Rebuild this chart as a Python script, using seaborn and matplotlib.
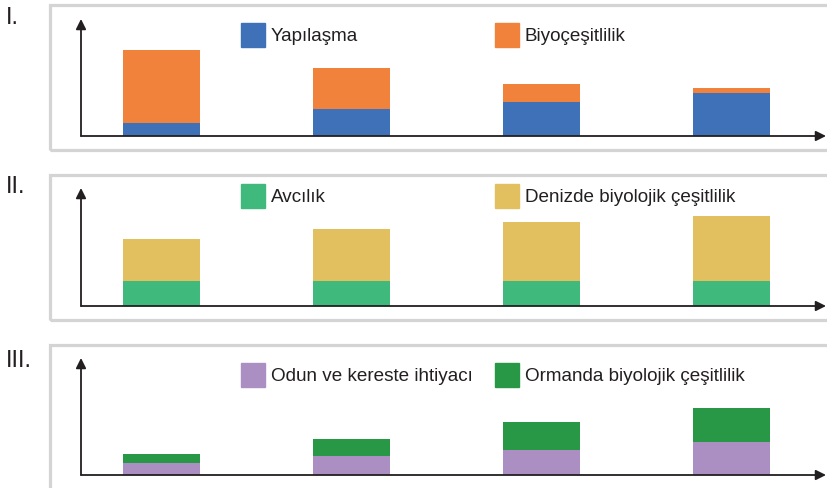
import matplotlib
matplotlib.use("Agg")
import matplotlib.pyplot as plt
from matplotlib.patches import Rectangle
import seaborn as sns
import pandas as pd

sns.set_style("white")
plt.rcParams['font.family'] = ['Liberation Sans', 'DejaVu Sans']

W, H = 828, 489

# values (pixel heights of the stacked parts)
periods = ["t1", "t2", "t3", "t4"]

yapilasma = [13, 27, 34, 43]
biyocesitlilik = [73, 41, 18, 5]

avcilik = [25, 25, 25, 25]
deniz_cesitlilik = [42, 52, 59, 65]

odun_ihtiyaci = [12, 19, 25, 33]
orman_cesitlilik = [9, 17, 28, 34]

panel_labels = ["I.", "II.", "III."]
legend_names = [
    ["Yapılaşma", "Biyoçeşitlilik"],
    ["Avcılık", "Denizde biyolojik çeşitlilik"],
    ["Odun ve kereste ihtiyacı", "Ormanda biyolojik çeşitlilik"],
]
colors = [
    ["#3e71b7", "#f0823c"],
    ["#3fba7c", "#e2c05f"],
    ["#ab8fc3", "#289847"],
]
series = [
    (yapilasma, biyocesitlilik),
    (avcilik, deniz_cesitlilik),
    (odun_ihtiyaci, orman_cesitlilik),
]

# layout in pixels
axis_top = [20, 189, 359]
axis_bottom = [137, 307, 476]
box_top = [5.5, 175.5, 345.5]
box_bottom = [150.5, 320.5, 500]
label_top = [7, 176, 350]
legend_top = [24, 185, 364]
ax_left, ax_right = 81, 826

fig = plt.figure(figsize=(W / 100, H / 100), dpi=100)


def fx(px):
    return px / W


def fy(py):
    return 1 - py / H


ink = "#231f20"

for i in range(3):
    bottom_vals, top_vals = series[i]
    df = pd.DataFrame({
        "period": periods,
        "bottom": bottom_vals,
        "total": [a + b for a, b in zip(bottom_vals, top_vals)],
    })

    # panel frame
    fig.patches.append(Rectangle(
        (fx(50), fy(box_bottom[i])), fx(W + 10 - 50), (box_bottom[i] - box_top[i]) / H,
        transform=fig.transFigure, fill=False, edgecolor="#d4d4d4", lw=2.3, zorder=0))

    ax = fig.add_axes([fx(ax_left), fy(axis_bottom[i]), fx(ax_right - ax_left),
                       (axis_bottom[i] - axis_top[i]) / H])
    ax.patch.set_alpha(0)
    sns.barplot(data=df, x="period", y="total", color=colors[i][1], width=0.405,
                saturation=1, ax=ax, zorder=2)
    sns.barplot(data=df, x="period", y="bottom", color=colors[i][0], width=0.405,
                saturation=1, ax=ax, zorder=3)
    for p in ax.patches:
        p.set_linewidth(0)
    ax.set_xlim(-0.424, 3.497)
    ax.set_ylim(0, axis_bottom[i] - axis_top[i])
    ax.set_xticks([])
    ax.set_yticks([])
    ax.set_xlabel("")
    ax.set_ylabel("")
    for s in ax.spines.values():
        s.set_visible(False)

    # axes with arrow heads
    arrow = dict(arrowstyle="-|>", color=ink, lw=1.3, mutation_scale=15,
                 shrinkA=0, shrinkB=0)
    ax.annotate("", xy=(1.0, 0), xytext=(0, 0), xycoords="axes fraction",
                arrowprops=arrow, annotation_clip=False)
    ax.annotate("", xy=(0, 1.0), xytext=(0, 0), xycoords="axes fraction",
                arrowprops=arrow, annotation_clip=False)

    # panel label
    fig.text(fx(6), fy(label_top[i]), panel_labels[i], fontsize=17, color=ink,
             ha="left", va="top")

    # legend squares and names
    for j, sx in enumerate([241, 495]):
        ly = legend_top[i]
        fig.patches.append(Rectangle((fx(sx), fy(ly + 24)), fx(24), 24 / H,
                                     transform=fig.transFigure, color=colors[i][j]))
        fig.text(fx(sx + 30), fy(ly + 12.5), legend_names[i][j], fontsize=13.6,
                 color=ink, ha="left", va="center")

fig.savefig("out.png", dpi=100)
